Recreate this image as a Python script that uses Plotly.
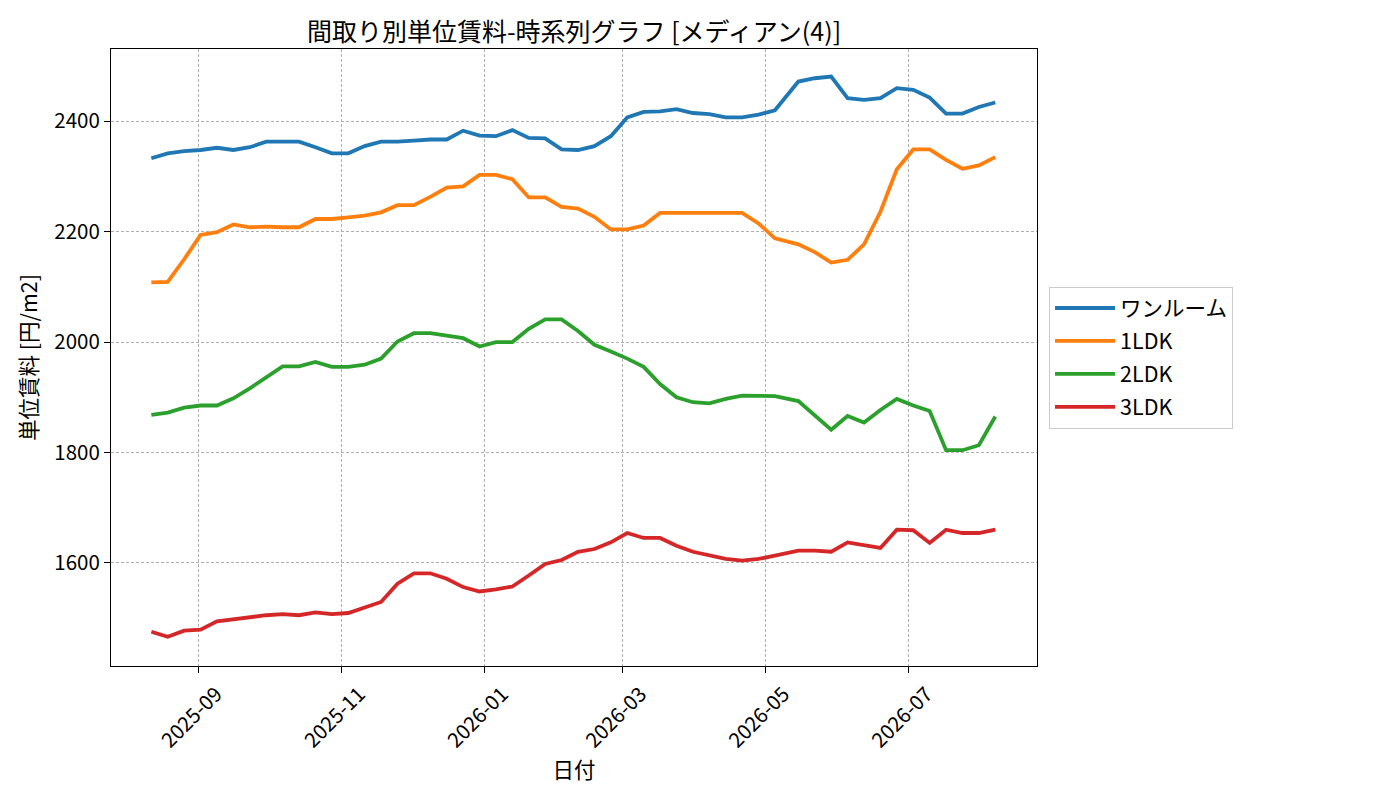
import plotly.graph_objects as go

dates = [
    "2025-08-12", "2025-08-19", "2025-08-26", "2025-09-02", "2025-09-09", "2025-09-16",
    "2025-09-23", "2025-09-30", "2025-10-07", "2025-10-14", "2025-10-21", "2025-10-28",
    "2025-11-04", "2025-11-11", "2025-11-18", "2025-11-25", "2025-12-02", "2025-12-09",
    "2025-12-16", "2025-12-23", "2025-12-30", "2026-01-06", "2026-01-13", "2026-01-20",
    "2026-01-27", "2026-02-03", "2026-02-10", "2026-02-17", "2026-02-24", "2026-03-03",
    "2026-03-10", "2026-03-17", "2026-03-24", "2026-03-31", "2026-04-07", "2026-04-14",
    "2026-04-21", "2026-04-28", "2026-05-05", "2026-05-15", "2026-05-22", "2026-05-29",
    "2026-06-05", "2026-06-12", "2026-06-19", "2026-06-26", "2026-07-03", "2026-07-10",
    "2026-07-17", "2026-07-24", "2026-07-31", "2026-08-07",
]

one_room = [
    2333, 2342, 2346, 2348, 2352, 2348, 2353, 2363, 2363, 2363, 2353, 2342,
    2342, 2355, 2363, 2363, 2365, 2367, 2367, 2383, 2374, 2373, 2384, 2370,
    2369, 2349, 2348, 2355, 2373, 2407, 2417, 2418, 2422, 2415, 2413, 2407,
    2407, 2412, 2420, 2472, 2478, 2481, 2442, 2439, 2442, 2460, 2457, 2443,
    2414, 2414, 2426, 2434,
]

ldk1 = [
    2108, 2109, 2150, 2194, 2199, 2213, 2208, 2209, 2208, 2208, 2223, 2223,
    2226, 2229, 2235, 2248, 2248, 2263, 2280, 2282, 2303, 2303, 2295, 2262,
    2262, 2245, 2242, 2227, 2204, 2204, 2211, 2234, 2234, 2234, 2234, 2234,
    2234, 2215, 2188, 2177, 2163, 2144, 2149, 2177, 2236, 2313, 2349, 2349,
    2330, 2314, 2320, 2335,
]

ldk2 = [
    1868, 1872, 1881, 1885, 1885, 1898, 1916, 1936, 1956, 1956, 1964, 1955,
    1955, 1959, 1970, 2001, 2016, 2016, 2012, 2007, 1992, 2000, 2000, 2024,
    2041, 2041, 2020, 1995, 1983, 1970, 1955, 1924, 1900, 1891, 1889, 1897,
    1903, 1903, 1902, 1893, 1868, 1841, 1866, 1854, 1877, 1897, 1885, 1875,
    1804, 1804, 1813, 1865,
]

ldk3 = [
    1475, 1466, 1477, 1479, 1494, 1498, 1502, 1505, 1507, 1505, 1510, 1507,
    1509, 1519, 1529, 1562, 1581, 1581, 1571, 1556, 1548, 1552, 1557, 1577,
    1598, 1605, 1620, 1625, 1637, 1654, 1645, 1645, 1631, 1620, 1613, 1607,
    1604, 1607, 1613, 1622, 1622, 1620, 1637, 1632, 1627, 1660, 1659, 1636,
    1660, 1654, 1654, 1660,
]

series_names = ["ワンルーム", "1LDK", "2LDK", "3LDK"]
series_values = [one_room, ldk1, ldk2, ldk3]
colors = ["#1f77b4", "#ff7f0e", "#2ca02c", "#d62728"]

tick_vals = ["2025-09-01", "2025-11-01", "2026-01-01", "2026-03-01", "2026-05-01", "2026-07-01"]
tick_text = ["2025-09", "2025-11", "2026-01", "2026-03", "2026-05", "2026-07"]
y_ticks = [1600, 1800, 2000, 2200, 2400]

FONT = "Noto Sans CJK JP"

# page body has an 8px margin, so the figure is 8px smaller and margins shifted
W, H = 1392, 792
L, T, R, B = 103, 41, 363, 134

fig = go.Figure()
for name, vals, col in zip(series_names, series_values, colors):
    fig.add_trace(go.Scatter(
        x=dates, y=vals, mode="lines", name=name, legendgroup=name,
        line=dict(color=col, width=3.8),
    ))

fig.update_layout(
    width=W, height=H,
    paper_bgcolor="white", plot_bgcolor="white",
    margin=dict(l=L, r=R, t=T, b=B, autoexpand=False),
    font=dict(family=FONT, size=20, color="black"),
    title=dict(text="間取り別単位賃料-時系列グラフ [メディアン(4)]",
               x=(L + (W - R)) / 2 / W, xanchor="center",
               y=1 - 24 / H, yanchor="middle",
               font=dict(family=FONT, size=25, color="black")),
    legend=dict(x=1.013, xanchor="left", y=0.5, yanchor="middle",
                bordercolor="#cccccc", borderwidth=1, bgcolor="white",
                font=dict(family=FONT, size=21.5, color="black"),
                itemwidth=60, tracegroupgap=2),
    showlegend=True,
)

fig.update_xaxes(
    type="date",
    range=["2025-07-25 19:00", "2026-08-24 19:00"],
    tickmode="array", tickvals=tick_vals, ticktext=tick_text,
    tickangle=-45, ticks="outside", ticklen=6, tickcolor="black",
    ticklabelshift=18, ticklabelstandoff=1,
    tickfont=dict(family=FONT, size=20.5, color="black"),
    showgrid=True, gridcolor="#b0b0b0", griddash="3px,2px", gridwidth=0.9,
    showline=True, linecolor="black", linewidth=1.2, mirror=True,
    zeroline=False,
    title=dict(text="日付", font=dict(family=FONT, size=21.5, color="black"), standoff=0),
)

fig.update_yaxes(
    range=[1413, 2531],
    tickmode="array", tickvals=y_ticks,
    ticks="outside", ticklen=6, tickcolor="black",
    tickfont=dict(family=FONT, size=20.5, color="black"),
    showgrid=True, gridcolor="#b0b0b0", griddash="3px,2px", gridwidth=0.9,
    showline=True, linecolor="black", linewidth=1.2, mirror=True,
    zeroline=False,
    title=dict(text="単位賃料 [円/m2]", font=dict(family=FONT, size=21.5, color="black"), standoff=10),
)

fig.write_html("out.html")
